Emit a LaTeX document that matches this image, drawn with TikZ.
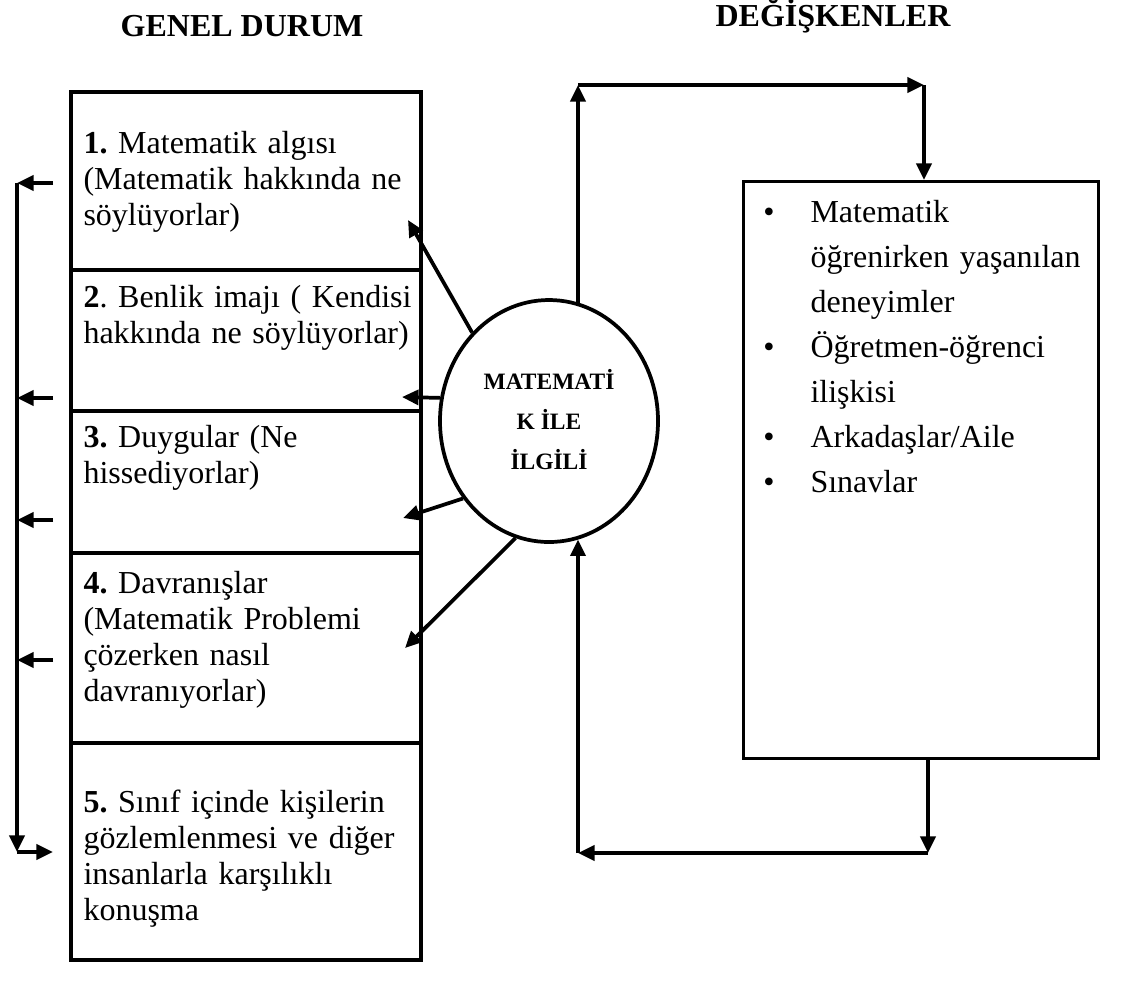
\documentclass[tikz,border=0pt]{standalone}
\usepackage{fontspec}
\setmainfont{Liberation Serif}
\usetikzlibrary{arrows.meta,shapes.geometric,calc}
\frenchspacing
\begin{document}
\begin{tikzpicture}[x=0.375pt,y=-0.375pt,
  arr/.style={line width=1.4pt,-{Triangle[length=6.2pt,width=5.6pt]}},
  cell/.style={draw,line width=1.6pt,anchor=north west,inner sep=0,minimum width=131.25pt},
  txt/.style={anchor=base west,inner sep=0,align=left,text width=140pt,font=\fontsize{12pt}{13.5pt}\selectfont},
  rtxt/.style={anchor=base west,inner sep=0,align=left,text width=120pt,font=\fontsize{12pt}{16.875pt}\selectfont},
  bul/.style={anchor=base,inner sep=0,font=\fontsize{12pt}{14pt}\selectfont},
  title/.style={inner sep=0,font=\bfseries\fontsize{12pt}{14pt}\selectfont}]
\useasboundingbox (0,0) rectangle (1123,985);

% titles
\node[title] (g) at (242,26) {GENEL DURUM};
\node[title] (d) at (833,16) {DEĞİŞKENLER};

% left cells
\node[cell,minimum height=66.75pt] (c1) at (69,90) {};
\node[cell,minimum height=52.875pt] (c2) at (69,268) {};
\node[cell,minimum height=53.25pt] (c3) at (69,409) {};
\node[cell,minimum height=71.25pt] (c4) at (69,551) {};
\node[cell,minimum height=81.375pt] (c5) at (69,741) {};

\node[txt] (t1) at (83,153) {\textbf{1.} Matematik algısı\\(Matematik hakkında ne\\söylüyorlar)};
\node[txt] (t2) at (83,307) {\textbf{2}. Benlik imajı ( Kendisi\\hakkında ne söylüyorlar)};
\node[txt] (t3) at (83,447) {\textbf{3.} Duygular (Ne\\hissediyorlar)};
\node[txt] (t4) at (83,593) {\textbf{4.} Davranışlar\\(Matematik Problemi\\çözerken nasıl\\davranıyorlar)};
\node[txt] (t5) at (83,812) {\textbf{5.} Sınıf içinde kişilerin\\gözlemlenmesi ve diğer\\insanlarla karşılıklı\\konuşma};

% ellipse
\node[draw,ellipse,line width=1.4pt,minimum width=81.75pt,minimum height=90.75pt,inner sep=0] (E) at (549,421) {};
\node[inner sep=0,align=center,font=\bfseries\fontsize{8.8pt}{15pt}\selectfont] (Et) at (549,420) {MATEMATİ\\K İLE\\İLGİLİ};

% right box
\node[draw,line width=1.3pt,anchor=north west,inner sep=0,minimum width=133.125pt,minimum height=216.375pt] (R) at (742,180) {};
\node[rtxt] (rt) at (810,222) {Matematik\\öğrenirken yaşanılan\\deneyimler\\Öğretmen-öğrenci\\ilişkisi\\Arkadaşlar/Aile\\Sınavlar};
\node[bul] (u1) at (769,222) {•};
\node[bul] (u2) at (769,357) {•};
\node[bul] (u3) at (769,447) {•};
\node[bul] (u4) at (769,492) {•};

% arrows from ellipse to cells
\coordinate (p1) at (408,220);
\coordinate (p2) at (402,397);
\coordinate (p3) at (403,518);
\coordinate (p4) at (405,648);
\draw[arr] (E.131) -- (p1);
\draw[arr] (E.168) -- (p2);
\draw[arr] (E.222) -- (p3);
\draw[arr] (E.254) -- (p4);

% top loop
\coordinate (tl) at (578,85);
\coordinate (tr) at (924,85);
\draw[arr] (tl |- E.76) -- (tl);
\draw[arr] (tl) -- (tr);
\draw[arr] (tr) -- (tr |- R.north);

% bottom loop
\coordinate (br) at (928,853);
\coordinate (bl) at (578,853);
\draw[arr] (br |- R.south) -- (br);
\draw[arr] (br) -- (bl);
\draw[arr] (bl) -- (bl |- E.-76);

% left feedback line
\coordinate (s1) at (53,183);
\coordinate (s2) at (53,398);
\coordinate (s3) at (53,520);
\coordinate (s4) at (53,660);
\coordinate (s5) at (53,852);
\coordinate (l1) at (17,183);
\coordinate (l5) at (17,852);
\draw[arr] (s1) -- (l1);
\draw[arr] (s2) -- (s2 -| l1);
\draw[arr] (s3) -- (s3 -| l1);
\draw[arr] (s4) -- (s4 -| l1);
\draw[arr] (l1) -- (l5);
\draw[arr] (l5) -- (s5);
\end{tikzpicture}
\end{document}
